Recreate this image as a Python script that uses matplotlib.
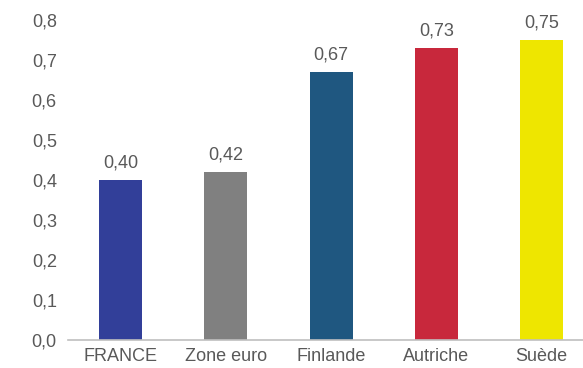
import matplotlib
matplotlib.use('agg')
import matplotlib.pyplot as plt

categories = ['FRANCE', 'Zone euro', 'Finlande', 'Autriche', 'Suède']
values = [0.40, 0.42, 0.67, 0.73, 0.75]
value_labels = ['0,40', '0,42', '0,67', '0,73', '0,75']
colors = ['#323F99', '#808080', '#1F5780', '#C8283C', '#EEE600']
ytick_vals = [0.0, 0.1, 0.2, 0.3, 0.4, 0.5, 0.6, 0.7, 0.8]
ytick_labels = ['0,0', '0,1', '0,2', '0,3', '0,4', '0,5', '0,6', '0,7', '0,8']

plt.rcParams['font.family'] = ['Liberation Sans', 'DejaVu Sans']
txt = '#595959'

fig = plt.figure(figsize=(5.83, 3.68), dpi=100)
ax = fig.add_axes([0.1166, 0.0774, 0.8834, 0.8683])
x = list(range(len(categories)))
ax.bar(x, values, width=0.41, color=colors, zorder=2)
for xi, v, lab in zip(x, values, value_labels):
    ax.text(xi, v + 0.02, lab, ha='center', va='bottom', fontsize=13, color=txt)

ax.set_xlim(-0.5, 4.393)
ax.set_ylim(0, 0.8)
ax.set_xticks(x)
ax.set_xticklabels(categories, fontsize=13, color=txt)
ax.set_yticks(ytick_vals)
ax.set_yticklabels(ytick_labels, fontsize=13, color=txt)
ax.tick_params(length=0, pad=8)
ax.tick_params(axis='x', pad=6)
for s in ['top', 'right', 'left']:
    ax.spines[s].set_visible(False)
ax.spines['bottom'].set_color('#BFBFBF')
ax.spines['bottom'].set_linewidth(1.2)

fig.savefig('out.png', dpi=100)
